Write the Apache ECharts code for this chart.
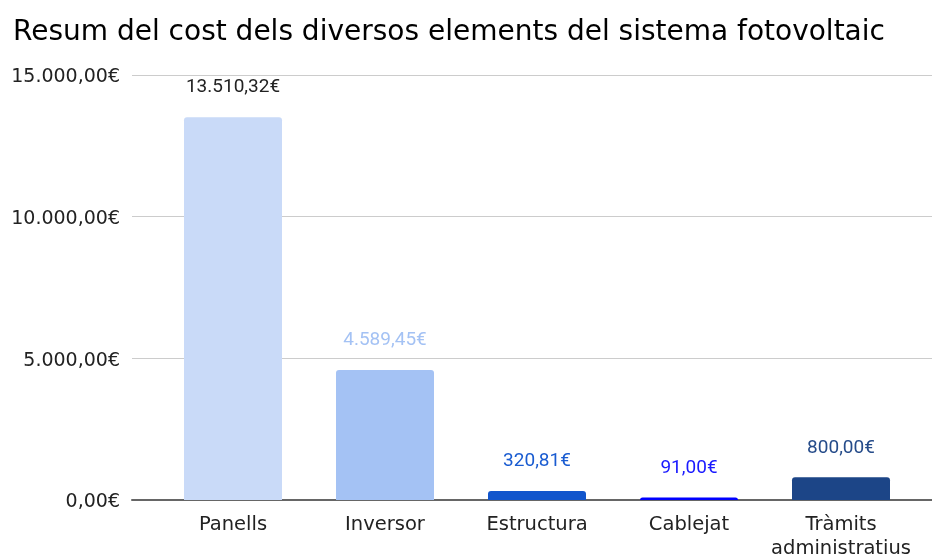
<!DOCTYPE html>
<html>
<head>
<meta charset="utf-8">
<script src="https://cdn.jsdelivr.net/npm/echarts@6/dist/echarts.min.js"></script>
<style>
  html, body { margin: 0; padding: 0; background: #fff; }
  #chart { width: 932px; height: 558px; }
</style>
</head>
<body>
<div id="chart"></div>
<script>
// Cost breakdown of the photovoltaic system components
const categories = ['Panells', 'Inversor', 'Estructura', 'Cablejat', 'Tràmits\nadministratius'];
const costs = [13510.32, 4589.45, 320.81, 91.00, 800.00];
const barColors = ['#c9daf8', '#a4c2f4', '#1155cc', '#0000ff', '#1c4587'];
const labelColors = ['#222222', '#a4c2f4', '#1a5cd1', '#1a1aff', '#264c8a'];
const yTicks = [0, 5000, 10000, 15000];

function euro(v) {
  const parts = v.toFixed(2).split('.');
  const intPart = parts[0].replace(/\B(?=(\d{3})+(?!\d))/g, '.');
  return intPart + ',' + parts[1] + '€';
}

const chart = echarts.init(document.getElementById('chart'), null, { renderer: 'canvas' });

chart.setOption({
  animation: false,
  backgroundColor: '#ffffff',
  title: {
    text: 'Resum del cost dels diversos elements del sistema fotovoltaic',
    left: 8,
    top: 14,
    textStyle: {
      fontFamily: '"DejaVu Sans", sans-serif',
      fontSize: 28,
      fontWeight: 'normal',
      color: '#000000'
    }
  },
  grid: [
    // frame holding the value scale and its gridlines
    { left: 132, right: 0, top: 75, bottom: 58, outerBoundsMode: 'none' },
    // frame holding the bars
    { left: 157, right: 15, top: 75, bottom: 58, outerBoundsMode: 'none' }
  ],
  xAxis: [
    {
      gridIndex: 0,
      type: 'category',
      data: categories,
      axisLine: { show: true, lineStyle: { color: '#666666', width: 2 } },
      axisTick: { show: false },
      axisLabel: { show: false }
    },
    {
      gridIndex: 1,
      type: 'category',
      data: categories,
      axisLine: { show: false },
      axisTick: { show: false },
      axisLabel: {
        interval: 0,
        margin: 13,
        fontFamily: '"DejaVu Sans", sans-serif',
        fontSize: 19.5,
        lineHeight: 24,
        color: '#222222'
      }
    }
  ],
  yAxis: [
    {
      gridIndex: 0,
      type: 'value',
      min: yTicks[0],
      max: yTicks[yTicks.length - 1],
      interval: 5000,
      axisLine: { show: false },
      axisTick: { show: false },
      splitLine: { show: true, lineStyle: { color: '#cccccc', width: 1 } },
      axisLabel: {
        margin: 12,
        verticalAlign: 'top',
        lineHeight: 5,
        fontFamily: '"DejaVu Sans", sans-serif',
        fontSize: 19,
        color: '#222222',
        formatter: v => euro(v)
      }
    },
    {
      gridIndex: 1,
      type: 'value',
      min: yTicks[0],
      max: yTicks[yTicks.length - 1],
      interval: 5000,
      show: false,
      splitLine: { show: false }
    }
  ],
  series: [
    {
      type: 'bar',
      xAxisIndex: 1,
      yAxisIndex: 1,
      barWidth: 98,
      data: costs.map((v, i) => ({
        value: v,
        itemStyle: { color: barColors[i], borderRadius: [3, 3, 0, 0] },
        label: { color: labelColors[i] }
      })),
      label: {
        show: true,
        position: 'top',
        distance: 20,
        fontFamily: 'Roboto, sans-serif',
        fontSize: 19,
        formatter: p => euro(p.value)
      }
    }
  ]
});
</script>
</body>
</html>
